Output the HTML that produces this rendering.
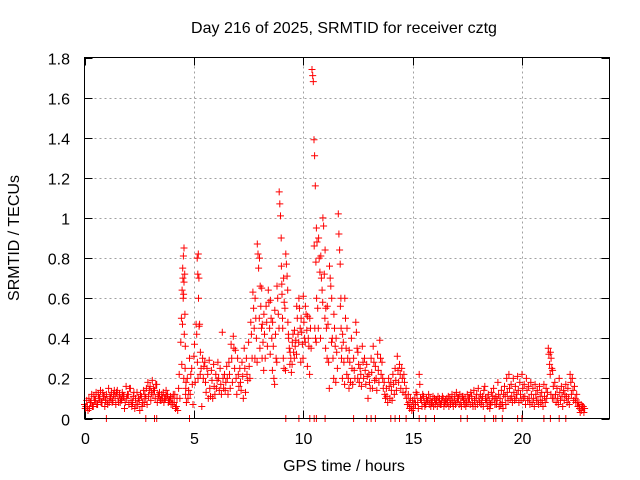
<!DOCTYPE html>
<html><head><meta charset="utf-8"><style>
body{margin:0;background:#fff;}
svg{display:block;font-family:"Liberation Sans",sans-serif;}
</style></head><body>
<svg id="chart" width="640" height="480" viewBox="0 0 640 480" xmlns="http://www.w3.org/2000/svg">
<rect width="640" height="480" fill="#fff"/>
<text x="344" y="33" font-size="16" text-anchor="middle" fill="#000">Day 216 of 2025, SRMTID for receiver cztg</text>
<g id="grid"></g>
<g id="ticks"></g>
<g id="points"></g>
<rect x="84.5" y="57.5" width="525" height="361" fill="none" stroke="#000" stroke-width="1"/>
<text x="344" y="471" font-size="16" text-anchor="middle">GPS time / hours</text>
<text transform="translate(19,238) rotate(-90)" font-size="16" text-anchor="middle">SRMTID / TECUs</text>
</svg>
<script>
const xTicks=[0,5,10,15,20];
const yTicks=[0,0.2,0.4,0.6,0.8,1,1.2,1.4,1.6,1.8];
const yTickLabels=["0","0.2","0.4","0.6","0.8","1","1.2","1.4","1.6","1.8"];
const times=[0.0,0.1,0.2,0.3,0.4,0.5,0.6,0.7,0.8,0.9,1.0,1.1,1.2,1.3,1.4,1.5,1.6,1.7,1.8,1.9,2.0,2.1,2.2,2.3,2.4,2.5,2.6,2.7,2.8,2.9,3.0,3.1,3.2,3.3,3.4,3.5,3.6,3.7,3.8,3.9,4.0,4.1,4.2,
4.3,4.4,4.45,4.5,4.55,4.6,4.7,4.8,4.9,5.0,5.1,5.15,5.2,5.3,5.4,5.5,5.6,5.7,5.8,5.9,6.0,6.1,6.2,6.3,6.4,6.5,6.6,6.7,6.8,6.9,7.0,7.1,7.2,7.3,7.4,7.5,7.6,7.7,7.8,7.9,8.0,8.1,8.2,8.3,8.4,8.5,8.6,8.7,8.8,8.9,9.0,9.1,9.2,9.3,9.4,9.5,9.6,9.7,9.8,9.9,10.0,10.1,10.2,10.3,10.4,10.5,10.6,10.7,10.8,10.9,11.0,11.1,11.2,11.3,11.4,11.5,11.6,11.7,11.8,11.9,12.0,12.1,12.2,12.3,12.4,12.5,12.6,12.7,12.8,12.9,13.0,13.1,13.2,13.3,13.4,13.5,13.6,13.7,13.8,13.9,14.0,14.1,14.2,14.3,14.4,14.5,14.6,14.7,14.8,14.9,15.0,15.1,15.2,15.3,15.4,15.5,15.6,15.7,15.8,
15.9,16.0,16.1,16.2,16.3,16.4,16.5,16.6,16.7,16.8,
16.9,17.0,17.1,17.2,17.3,17.4,17.5,17.6,17.7,17.8,
17.9,18.0,18.1,18.2,18.3,18.4,18.5,18.6,18.7,18.8,
18.9,19.0,19.1,19.2,19.3,19.4,19.5,19.6,19.7,19.8,
19.9,20.0,20.1,20.2,20.3,20.4,20.5,20.6,20.7,20.8,
20.9,21.0,21.1,21.2,21.3,21.4,21.5,21.6,21.7,21.8,
21.9,22.0,22.1,22.2,22.3,22.4,22.5,22.6,22.7,22.8];
const values=[[.07,.05,.06],[.09,.06,.04],[.1,.05,.08],[.08,.12,.06],[.06,.11,.09],[.09,.13,.07],[.07,.12,.1],[.1,.14,.08],[.08,.13,.11],[.11,.06,.09],[.12,.09,.07],[.15,.08,.11],[.1,.13,.08],[.09,.12,.14],[.11,.07,.13],[.14,.1,.08],[.12,.08,.1],[.09,.13,.11],[.11,.05,.08],[.16,.1,.12],[.12,.07,.15],[.15,.09,.06],[.08,.11,.13],[.05,.1,.07],[.13,.07,.1],[.09,.04,.12],[.11,.06,.08],[.14,.08,.12],[.1,.15,.07],[.18,.11,.14],[.16,.09,.13],[.19,.12,.15],[.14,.1,.17],[.17,.08,.12],[.11,.13,.09],[.09,.12,.1],[.13,.08,.1],[.1,.14,.11],[.12,.08,.09],[.09,.11,.07],[.1,.07,.12],[.08,.12,.05],[.06,.1,.04],
[.15,.22,.1],[.38,.5,.64,.75,.81,.85],[.27,.47,.6,.2],[.7,.62,.42,.52,.12],[.68,.72,.36,.18],[.25,.15,.08],[.2,.1,.14],[.3,.12,.22],[.25,.17,.07],[.31,.37,.18],[.47,.42,.28,.2],[.8,.72,.6,.46],[.82,.7,.47,.22],[.33,.25,.06],[.3,.2,.26],[.28,.18,.13],[.25,.22,.1],[.29,.15,.11],[.24,.19,.1],[.27,.16,.12],[.22,.15,.19],[.28,.2,.14],[.25,.17,.12],[.43,.2,.15],[.22,.14,.18],[.26,.2,.12],[.28,.22,.15],[.37,.3,.18],[.41,.35,.25],[.34,.2,.12],[.3,.22,.16],[.25,.18,.14],[.28,.21,.1],[.35,.25,.13],[.3,.22,.19],[.38,.26,.2],[.48,.42,.3],[.63,.55,.45,.3],[.6,.5,.4,.28],[.87,.82,.75,.5,.35],[.8,.66,.56,.45,.3],[.65,.47,.38,.24],[.52,.42,.3],[.56,.48,.36],[.64,.58,.45,.32],[.59,.5,.4,.24],[.48,.36,.2,.17],[.54,.42,.3,.28],[.66,.6,.52,.45],[1.13,1.07,1.01,.9,.67,.5],[.76,.62,.45,.3,.25],[.7,.58,.55,.24],[.82,.77,.71,.64,.42],[.48,.4,.35,.27],[.33,.3,.23,.27],[.38,.42,.33,.3],[.44,.36,.39,.32],[.56,.5,.42,.38],[.6,.55,.45,.28],[.5,.43,.37,.3],[.61,.48,.4,.38],[.56,.52,.44,.26],[.51,.4,.36,.22],[.5,.45,.35],[1.74,1.71,1.68,1.39,1.31,1.16,.78,.6],[.86,.45,.4,.38],[.95,.88,.55,.45],[.9,.8,.73,.4],[.81,.7,.64,.58],[1.0,.96,.72,.5,.35],[.84,.55,.45,.3],[.56,.47,.28,.15],[.76,.7,.66,.38],[.6,.4,.3,.2],[.52,.45,.36,.18],[.4,.33,.25],[1.02,.92,.84,.77,.6,.3],[.56,.45,.35,.2],[.42,.38,.28,.17],[.6,.5,.35,.22],[.45,.3,.2,.15],[.34,.28,.18],[.4,.25,.17],[.3,.24,.2],[.48,.43,.35,.2],[.33,.27,.18],[.25,.22,.16],[.36,.28,.2],[.3,.24,.17],[.27,.21,.1],[.22,.18,.15],[.3,.23,.15],[.36,.28,.19],[.26,.2,.14],[.32,.24,.18],[.39,.3,.22],[.28,.2,.15],[.18,.12,.1],[.15,.11,.08],[.2,.16,.1],[.18,.14,.09],[.22,.17,.12],[.25,.19,.14],[.31,.24,.18],[.27,.22,.15],[.25,.2,.13],[.22,.18,.12],[.15,.1,.07],[.12,.08,.05],[.1,.06,.04],[.09,.05,.07],[.1,.07,.13],[.12,.08,.05],[.22,.17,.1],[.09,.06,.12],[.11,.08,.06],[.07,.1,.09],[.09,.12,.07],[.1,.06,.08],
[.08,.11,.06],[.1,.07,.09],[.09,.06,.11],[.08,.1,.07],[.07,.09,.11],[.1,.06,.08],[.09,.07,.1],[.08,.11,.06],[.1,.07,.09],[.12,.08,.06],
[.09,.11,.07],[.13,.08,.1],[.1,.07,.12],[.08,.06,.11],[.11,.09,.07],[.1,.06,.08],[.12,.08,.1],[.1,.07,.13],[.11,.08,.06],[.14,.09,.06],
[.1,.12,.07],[.15,.1,.08],[.12,.07,.09],[.11,.06,.14],[.16,.1,.08],[.1,.06,.12],[.09,.05,.07],[.13,.08,.11],[.15,.1,.07],[.11,.07,.09],
[.18,.12,.06],[.1,.07,.14],[.08,.05,.12],[.16,.11,.07],[.2,.13,.09],[.22,.15,.1],[.17,.11,.08],[.2,.13,.09],[.16,.1,.12],[.21,.14,.08],
[.18,.12,.09],[.22,.15,.1],[.17,.11,.07],[.2,.14,.09],[.16,.1,.07],[.18,.12,.08],[.15,.1,.06],[.17,.12,.09],[.14,.09,.07],[.16,.11,.08],
[.13,.09,.06],[.17,.11,.08],[.15,.1,.13],[.35,.32,.27,.22,.12],[.33,.3,.25,.1],[.24,.16,.1],[.18,.12,.08],[.15,.1,.07],[.2,.13,.09],[.16,.11,.06],
[.14,.09,.12],[.17,.11,.08],[.15,.1,.07],[.22,.18,.12],[.2,.14,.09],[.16,.1,.08],[.12,.08,.06],[.08,.05,.03],[.07,.04,.06],[.06,.03,.05]];
const zeroTimes=[1.0,2.8,3.2,3.3,4.8,9.2,9.8,10.3,10.5,10.6,11.0,12.3,12.9,13.1,13.3,14.0,14.2,14.4,14.7,15.3,15.6,16.0,17.2,17.5,18.3,18.7,18.8,19.1,19.8,20.0,21.0,21.3,21.7,22.0];

const X0=84.5,X1=609.5,Y0=418.5,Y1=57.5;
const xScale=t=>X0+(t/24)*(X1-X0);
const yScale=v=>Y0-(v/1.8)*(Y0-Y1);
const NS="http://www.w3.org/2000/svg";
const grid=document.getElementById('grid'),ticks=document.getElementById('ticks'),pts=document.getElementById('points');
function line(g,x1,y1,x2,y2,st,dash){const l=document.createElementNS(NS,'line');l.setAttribute('x1',x1);l.setAttribute('y1',y1);l.setAttribute('x2',x2);l.setAttribute('y2',y2);l.setAttribute('stroke',st);if(dash)l.setAttribute('stroke-dasharray',dash);g.appendChild(l);return l;}
yTicks.forEach((v,i)=>{const y=Math.round(yScale(v))+0.5;
 if(i>0&&i<yTicks.length-1){const gl=line(grid,X0,y,X1,y,'#a0a0a0','2,3');
 
 }
 line(ticks,X0,y,X0+8,y,'#000');line(ticks,X1-8,y,X1,y,'#000');
 const t=document.createElementNS(NS,'text');t.setAttribute('x',70);t.setAttribute('y',y+6);t.setAttribute('font-size','16');t.setAttribute('text-anchor','end');t.textContent=yTickLabels[i];
 
 
 ticks.appendChild(t);});
xTicks.forEach((v,i)=>{const x=Math.round(xScale(v))+0.5;
 if(i>0){const gl=line(grid,x,Y0,x,Y1,'#a0a0a0','2,3');
 
 }
 line(ticks,x,Y0,x,Y0-8,'#000');line(ticks,x,Y1,x,Y1+8,'#000');
 const t=document.createElementNS(NS,'text');t.setAttribute('x',x);t.setAttribute('y',444);t.setAttribute('font-size','16');t.setAttribute('text-anchor','middle');t.textContent=String(v);
 
 
 ticks.appendChild(t);});
let d='';
function plus(t,v){const x=xScale(t),y=yScale(v);d+='M'+(x-3.5).toFixed(1)+' '+y.toFixed(1)+'h7M'+x.toFixed(1)+' '+(y-3.5).toFixed(1)+'v7';}
times.forEach((t,i)=>{const vs=values[i]||[];vs.forEach((v,j)=>{plus(t+j*0.03,v);});});
zeroTimes.forEach(t=>plus(t,0));
const p=document.createElementNS(NS,'path');p.setAttribute('d',d);p.setAttribute('stroke','#ff0000');p.setAttribute('stroke-width','1');p.setAttribute('fill','none');


pts.appendChild(p);
</script>
</body></html>
